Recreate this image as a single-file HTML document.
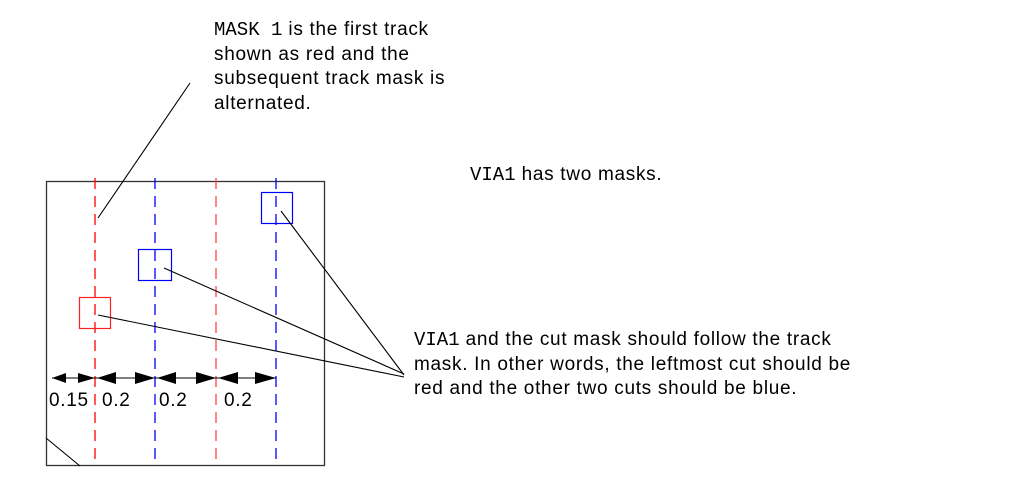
<!DOCTYPE html>
<html><head><style>
body{margin:0;width:1012px;height:500px;background:#fff;overflow:hidden;position:relative;font-family:"Liberation Sans",sans-serif;font-size:19px;letter-spacing:0.7px;color:#000}
.t{position:absolute;line-height:24.5px;white-space:nowrap}
.m{font-family:"Liberation Mono",monospace;letter-spacing:0}
</style></head><body>
<svg width="1012" height="500" style="position:absolute;left:0;top:0">
<rect x="46.5" y="181.5" width="278" height="284" fill="none" stroke="#333" stroke-width="1.3"/>
<g stroke-width="1.3" stroke-dasharray="11,7">
<line x1="95" y1="178" x2="95" y2="465" stroke="#f00"/>
<line x1="155" y1="178" x2="155" y2="465" stroke="#00f"/>
<line x1="216" y1="178" x2="216" y2="465" stroke="#f44"/>
<line x1="276" y1="178" x2="276" y2="465" stroke="#00f"/>
</g>
<rect x="79.5" y="297.5" width="31" height="31" fill="none" stroke="#f22" stroke-width="1.2"/>
<rect x="138.5" y="249.5" width="33" height="31" fill="none" stroke="#00f" stroke-width="1.2"/>
<rect x="261.5" y="192.5" width="31" height="31" fill="none" stroke="#00f" stroke-width="1.2"/>
<g stroke="#000" stroke-width="1.1">
<line x1="98" y1="218" x2="190" y2="83"/>
<line x1="98" y1="315" x2="404" y2="377"/>
<line x1="164" y1="268" x2="404" y2="374"/>
<line x1="281" y1="211" x2="404" y2="375"/>
<line x1="46" y1="438" x2="80" y2="466"/>
<line x1="52" y1="378" x2="276" y2="378"/>
</g>
<g fill="#000">
<polygon points="52,378 66,373 66,383"/><polygon points="95,378 78,373 78,383"/>
<polygon points="97,378 116,372 116,384"/><polygon points="155,378 135,372 135,384"/>
<polygon points="157,378 176,372 176,384"/><polygon points="216,378 196,372 196,384"/>
<polygon points="218,378 238,372 238,384"/><polygon points="276,378 255,372 255,384"/>
</g>
</svg>
<div class="t" style="left:49px;top:389px">0.15</div>
<div class="t" style="left:102px;top:389px">0.2</div>
<div class="t" style="left:159px;top:389px">0.2</div>
<div class="t" style="left:224px;top:389px">0.2</div>
<div class="t" style="left:214px;top:18px"><span class="m">MASK 1</span> is the first track<br>shown as red and the<br>subsequent track mask is<br>alternated.</div>
<div class="t" style="left:470px;top:163px"><span class="m">VIA1</span> has two masks.</div>
<div class="t" style="left:414px;top:328px"><span class="m">VIA1</span> and the cut mask should follow the track<br>mask. In other words, the leftmost cut should be<br>red and the other two cuts should be blue.</div>
</body></html>
